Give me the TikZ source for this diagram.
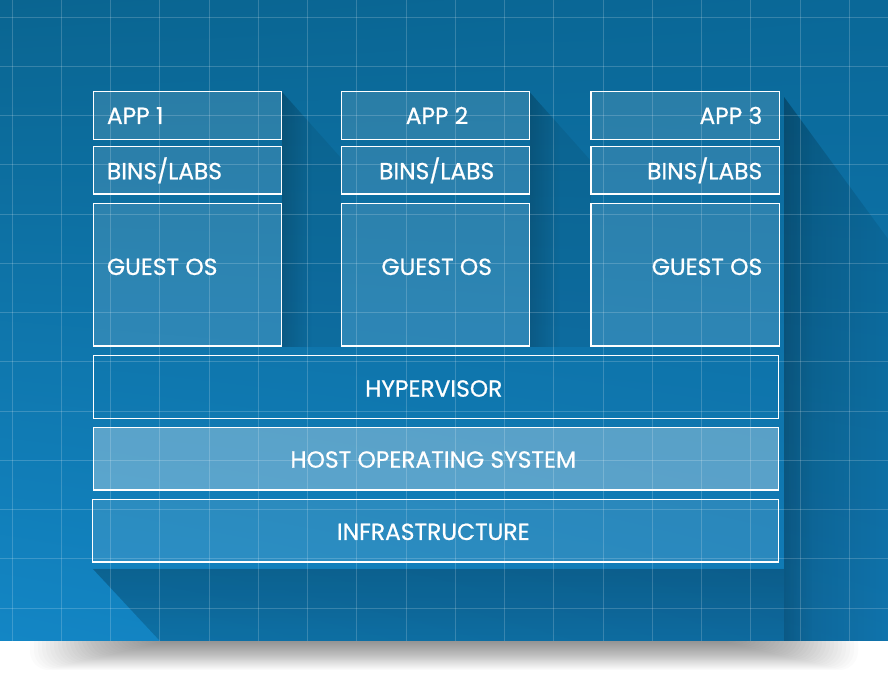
\documentclass[tikz,border=0pt]{standalone}
\usepackage{fontspec}
\setmainfont{Poppins}[FakeBold=0.7]
\usetikzlibrary{fadings,shadings}
\definecolor{bgTL}{HTML}{0A6591}
\definecolor{bgTR}{HTML}{0A6898}
\definecolor{bgBL}{HTML}{1386C5}
\definecolor{bgBR}{HTML}{117CB8}
\tikzfading[name=fadeR, left color=transparent!0, right color=transparent!100]
\tikzfading[name=fadeD, top color=transparent!0, bottom color=transparent!100]
\tikzset{
  colbox/.style={draw=white, line width=1.1pt, fill=white, fill opacity=0.13},
  hypbox/.style={draw=white, line width=1.1pt},
  hostbox/.style={draw=white, line width=1.1pt, fill=white, fill opacity=0.31},
  infbox/.style={draw=white, line width=1.1pt, fill=white, fill opacity=0.11},
  lbl/.style={text=white, inner sep=0pt, font=\fontsize{17.5}{20}\selectfont},
  gridline/.style={white, opacity=0.18, line width=0.7pt},
}
\begin{document}
\begin{tikzpicture}[x=0.75pt,y=0.75pt]
\useasboundingbox (0,0) rectangle (888,680);
\fill[white] (0,0) rectangle (888,680);
% soft shadow under the blue panel
\foreach \i in {0,...,29}
  \fill[black, opacity=0.014, rounded corners=14pt] (30+\i*4, 10+\i*0.95) rectangle (858-\i*4, 55);
% blue background
\shade[upper left=bgTL, upper right=bgTR, lower left=bgBL, lower right=bgBR] (0,39) rectangle (888,680);
% column long shadows
\begin{scope}
  \clip (282,588) -- (341,522) -- (341,333) -- (282,333) -- cycle;
  \fill[black, opacity=0.07] (282,333) rectangle (341,588);
  \fill[black, opacity=0.16, path fading=fadeR] (282,333) rectangle (312,588);
\end{scope}
\begin{scope}
  \clip (529.5,588) -- (591,519) -- (591,333) -- (529.5,333) -- cycle;
  \fill[black, opacity=0.07] (529.5,333) rectangle (591,588);
  \fill[black, opacity=0.16, path fading=fadeR] (529.5,333) rectangle (560,588);
\end{scope}
% big shadow right and bottom
\begin{scope}
  \clip (784,583) -- (888,441) -- (888,39) -- (160,39) -- (93,111) -- (784,111) -- cycle;
  \fill[black, opacity=0.06] (93,39) rectangle (888,583);
  \fill[black, opacity=0.14, path fading=fadeR] (784,39) rectangle (888,583);
  \fill[black, opacity=0.10, path fading=fadeD] (93,39) rectangle (784,111);
  \fill[black, opacity=0.09] (93,39) rectangle (784,111);
  \fill[black, opacity=0.10, path fading=fadeR] (784,39) rectangle (812,583);
\end{scope}
% grid
\foreach \k in {0,...,17}
  \draw[gridline] (12+\k*49.25,39) -- (12+\k*49.25,680);
\foreach \k in {0,...,12}
  \draw[gridline] (0,663-\k*49.25) -- (888,663-\k*49.25);
% column boxes
\foreach \xa/\xb in {93.3/281.7, 341.7/529.3, 591/779.3} {
  \path[colbox] (\xa,588.5) rectangle (\xb,540.7);
  \path[colbox] (\xa,533.5) rectangle (\xb,486);
  \path[colbox] (\xa,476.7) rectangle (\xb,334);
}
% layer boxes
\path[hypbox] (93.3,324.7) rectangle (778.5,261.7);
\path[hostbox] (93.3,252.7) rectangle (778.5,190);
\path[infbox] (92.3,180.7) rectangle (778.7,118);
% labels
\node[lbl, anchor=base west] (app1) at (106.7,556) {APP 1};
\node[lbl, anchor=base west] (bins1) at (106.7,500.7) {BINS/LABS};
\node[lbl, anchor=base west] (guest1) at (106.7,405) {GUEST OS};
\node[lbl, anchor=base] (app2) at (437,556) {APP 2};
\node[lbl, anchor=base] (bins2) at (436.7,500.7) {BINS/LABS};
\node[lbl, anchor=base] (guest2) at (436.7,405) {GUEST OS};
\node[lbl, anchor=base east] (app3) at (762.5,556) {APP 3};
\node[lbl, anchor=base east] (bins3) at (762.5,500.7) {BINS/LABS};
\node[lbl, anchor=base east] (guest3) at (762.5,405) {GUEST OS};
\node[lbl, anchor=base] (hyp) at (433.8,283.3) {HYPERVISOR};
\node[lbl, anchor=base] (host) at (433.3,212.3) {HOST OPERATING SYSTEM};
\node[lbl, anchor=base] (infra) at (433.3,140) {INFRASTRUCTURE};
\end{tikzpicture}
\end{document}
